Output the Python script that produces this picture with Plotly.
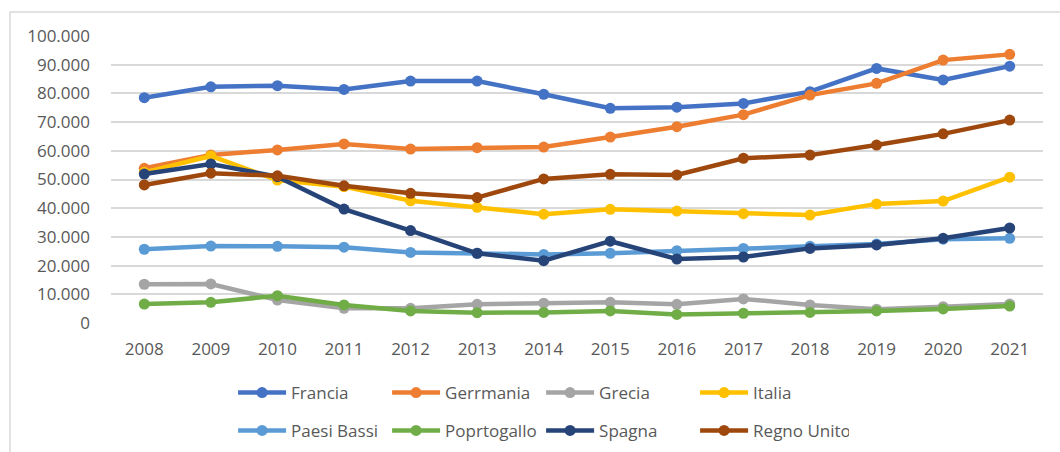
import plotly.graph_objects as go

# Anni e valori (lettura dal grafico)
years = [str(y) for y in range(2008, 2022)]

francia = [78500, 82300, 82700, 81400, 84300, 84300, 79700, 74800, 75200, 76500, 80600, 88700, 84700, 89500]
germania = [53900, 58500, 60300, 62400, 60600, 61100, 61300, 64800, 68400, 72600, 79400, 83500, 91600, 93600]
grecia = [13500, 13600, 8000, 5100, 5100, 6500, 6900, 7200, 6500, 8400, 6300, 4800, 5700, 6600]
italia = [52500, 58200, 49800, 47500, 42600, 40300, 37900, 39600, 39000, 38100, 37600, 41500, 42500, 50800]
paesi_bassi = [25700, 26800, 26700, 26400, 24600, 24300, 23900, 24300, 25200, 26000, 26700, 27500, 29200, 29500]
portogallo = [6600, 7200, 9500, 6300, 4200, 3600, 3700, 4200, 3000, 3400, 3700, 4200, 4900, 5900]
spagna = [51900, 55400, 51000, 39700, 32200, 24300, 21700, 28500, 22300, 23000, 26000, 27200, 29500, 33100]
regno_unito = [48100, 52200, 51300, 47800, 45200, 43700, 50200, 51800, 51600, 57400, 58500, 62000, 65900, 70700]

series = [
    ('Francia', francia, '#4472C4', 'legend'),
    ('Gerrmania', germania, '#ED7D31', 'legend'),
    ('Grecia', grecia, '#A5A5A5', 'legend'),
    ('Italia', italia, '#FFC000', 'legend'),
    ('Paesi Bassi', paesi_bassi, '#5B9BD5', 'legend2'),
    ('Poprtogallo', portogallo, '#70AD47', 'legend2'),
    ('Spagna', spagna, '#264478', 'legend2'),
    ('Regno Unito', regno_unito, '#9E480E', 'legend2'),
]

fig = go.Figure()
for name, vals, color, leg in series:
    fig.add_trace(go.Scatter(
        x=years, y=vals, name=name, mode='lines+markers',
        line=dict(color=color, width=4.5),
        marker=dict(color=color, size=11),
        legend=leg,
    ))

font = dict(family='Open Sans', size=17, color='#595959')
legend_common = dict(
    orientation='h', xanchor='left', yanchor='middle',
    font=font, itemwidth=48, entrywidth=91, entrywidthmode='pixels',
    bgcolor='rgba(0,0,0,0)', tracegroupgap=0,
)

# cornice del grafico: solo bordo sinistro e superiore visibili
frame = dict(type='path', xref='paper', yref='paper',
             path='M -0.1084,-0.6 L -0.1084,1.0836 L 1.02,1.0836',
             line=dict(color='#D9D9D9', width=1.5))

fig.update_layout(
    width=1060, height=452,
    margin=dict(l=111, r=17, t=36, b=129, autoexpand=False),
    paper_bgcolor='white', plot_bgcolor='white',
    separators=',.',
    font=font,
    legend=dict(x=0.131, y=-0.244, **legend_common),
    legend2=dict(x=0.131, y=-0.376, **legend_common),
    shapes=[frame],
)

fig.update_xaxes(
    type='category', range=[-0.5, 13.5],
    showgrid=False, showline=False, zeroline=False,
    ticks='', tickfont=font, ticklabelstandoff=14,
)
fig.update_yaxes(
    range=[0, 100000], dtick=10000, tickformat=',d',
    showgrid=True, gridcolor='#D9D9D9', gridwidth=1.5,
    zeroline=False, showline=False, ticks='', tickfont=font,
    ticklabelstandoff=20,
)

fig.write_html(
    'out.html',
    config={'displayModeBar': False},
    post_script="document.body.style.margin='0';document.body.style.overflow='hidden';",
)
